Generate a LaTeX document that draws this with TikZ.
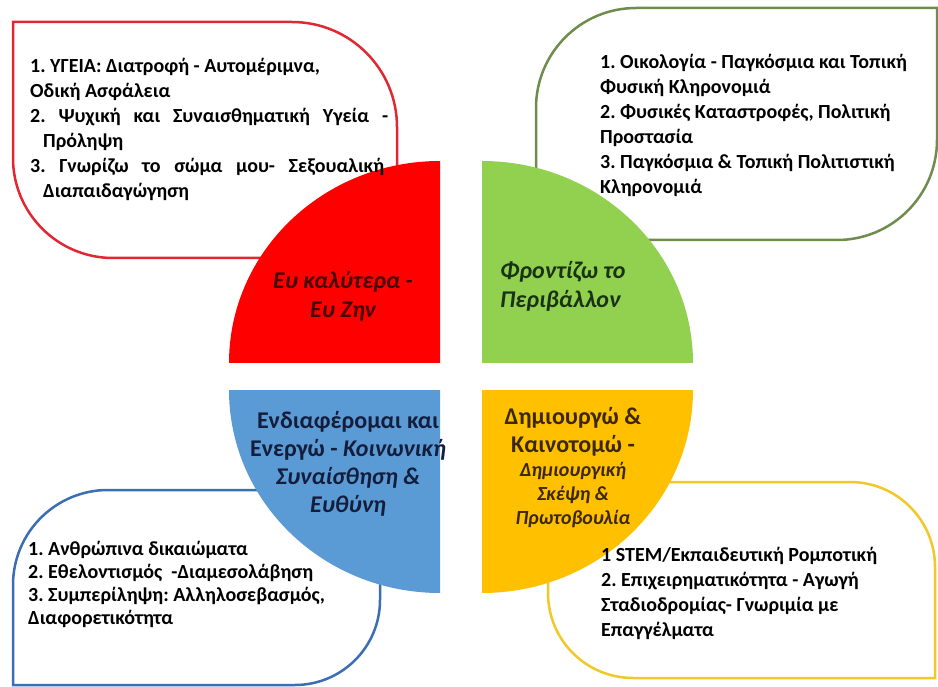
\documentclass[tikz,border=0pt]{standalone}
\usepackage{fontspec}
\setmainfont{Carlito}
\usetikzlibrary{positioning}
\definecolor{redfill}{RGB}{255,0,0}
\definecolor{greenfill}{RGB}{146,208,80}
\definecolor{bluefill}{RGB}{91,155,213}
\definecolor{yellowfill}{RGB}{255,192,0}
\definecolor{redline}{RGB}{225,40,50}
\definecolor{greenline}{RGB}{110,140,75}
\definecolor{blueline}{RGB}{60,110,180}
\definecolor{yellowline}{RGB}{240,200,40}
\definecolor{redtext}{RGB}{70,0,0}
\definecolor{greentext}{RGB}{25,50,20}
\definecolor{bluetext}{RGB}{20,30,60}
\definecolor{yellowtext}{RGB}{60,40,0}
\frenchspacing

\begin{document}
\begin{tikzpicture}[x=1pt,y=-1pt,
  box/.style={line width=2.5pt, fill=white},
  listtext/.style={anchor=base west, align=left, inner sep=0pt,
    font=\bfseries\fontsize{20}{25}\selectfont},
  quartertext/.style={anchor=base, align=center, inner sep=0pt,
    font=\bfseries\fontsize{24}{28}\selectfont}]
  \fill[white] (0,0) rectangle (938,687);
  \useasboundingbox (0,0) rectangle (938,687);
  % Define boxes
  \draw[box, draw=redline] (13,158) -- (13,22) -- (292,22)
    arc[start angle=270, end angle=360, radius=105] -- (397,258) -- (113,258)
    arc[start angle=90, end angle=180, radius=100] -- cycle;
  \draw[box, draw=greenline] (536,240) -- (536,108)
    arc[start angle=180, end angle=270, radius=100] -- (937,8) -- (937,140)
    arc[start angle=0, end angle=90, radius=100] -- cycle;
  \draw[box, draw=blueline] (13,685) -- (13,585)
    arc[start angle=180, end angle=270, radius=95] -- (380,490) -- (380,600)
    arc[start angle=0, end angle=90, radius=85] -- cycle;
  \draw[box, draw=yellowline] (548,482) -- (850,482)
    arc[start angle=270, end angle=360, radius=85] -- (935,678) -- (633,678)
    arc[start angle=90, end angle=180, radius=85] -- cycle;
  % Define quarters
  \fill[redfill] (440,363) -- (229,363)
    arc[start angle=180, end angle=270, x radius=211, y radius=202] -- cycle;
  \fill[greenfill] (482,363) -- (482,161)
    arc[start angle=270, end angle=360, x radius=211, y radius=202] -- cycle;
  \fill[bluefill] (440,390) -- (440,593)
    arc[start angle=90, end angle=180, x radius=211, y radius=203] -- cycle;
  \fill[yellowfill] (482,390) -- (693,390)
    arc[start angle=0, end angle=90, x radius=211, y radius=203] -- cycle;
  % Quarter labels
  \node[quartertext, text=redtext, font=\bfseries\itshape\fontsize{24}{29}\selectfont]
    (health) at (343,318) {Ευ καλύτερα -\\Ευ Ζην};
  \node[quartertext, text=greentext, anchor=base west, align=left,
    font=\bfseries\itshape\fontsize{24}{29}\selectfont]
    (env) at (500,308) {Φροντίζω το\\Περιβάλλον};
  \node[quartertext, text=bluetext] (social) at (348,512)
    {Ενδιαφέρομαι και\\Ενεργώ - \textit{Κοινωνική}\\\textit{Συναίσθηση \&}\\\textit{Ευθύνη}};
  \node[quartertext, text=yellowtext] (create) at (573,452)
    {Δημιουργώ \&\\Καινοτομώ -};
  \node[quartertext, text=yellowtext, anchor=north, below=6pt of create,
    font=\bfseries\itshape\fontsize{20}{24}\selectfont]
    (createsub) {Δημιουργική\\Σκέψη \&\\Πρωτοβουλία};
  % Lists
  \node[listtext] (healthlist) at (30,198)
    {1. ΥΓΕΙΑ: Διατροφή - Αυτομέριμνα,\\
     Οδική Ασφάλεια\\
     \makebox[358pt][s]{2. Ψυχική και Συναισθηματική Υγεία -}\\
     \hspace*{13pt}Πρόληψη\\
     \makebox[354pt][s]{3. Γνωρίζω το σώμα μου- Σεξουαλική}\\
     \hspace*{13pt}Διαπαιδαγώγηση};
  \node[listtext] (envlist) at (600,194)
    {1. Οικολογία - Παγκόσμια και Τοπική\\
     Φυσική Κληρονομιά\\
     2. Φυσικές Καταστροφές, Πολιτική\\
     Προστασία\\
     3. Παγκόσμια \& Τοπική Πολιτιστική\\
     Κληρονομιά};
  \node[listtext, font=\bfseries\fontsize{20}{23}\selectfont] (sociallist) at (28,624)
    {1. Ανθρώπινα δικαιώματα\\
     2. Εθελοντισμός \ -Διαμεσολάβηση\\
     3. Συμπερίληψη: Αλληλοσεβασμός,\\
     Διαφορετικότητα};
  \node[listtext] (createlist) at (601,636)
    {1 STEM/Εκπαιδευτική Ρομποτική\\
     2. Επιχειρηματικότητα - Αγωγή\\
     Σταδιοδρομίας- Γνωριμία με\\
     Επαγγέλματα};
\end{tikzpicture}
\end{document}
